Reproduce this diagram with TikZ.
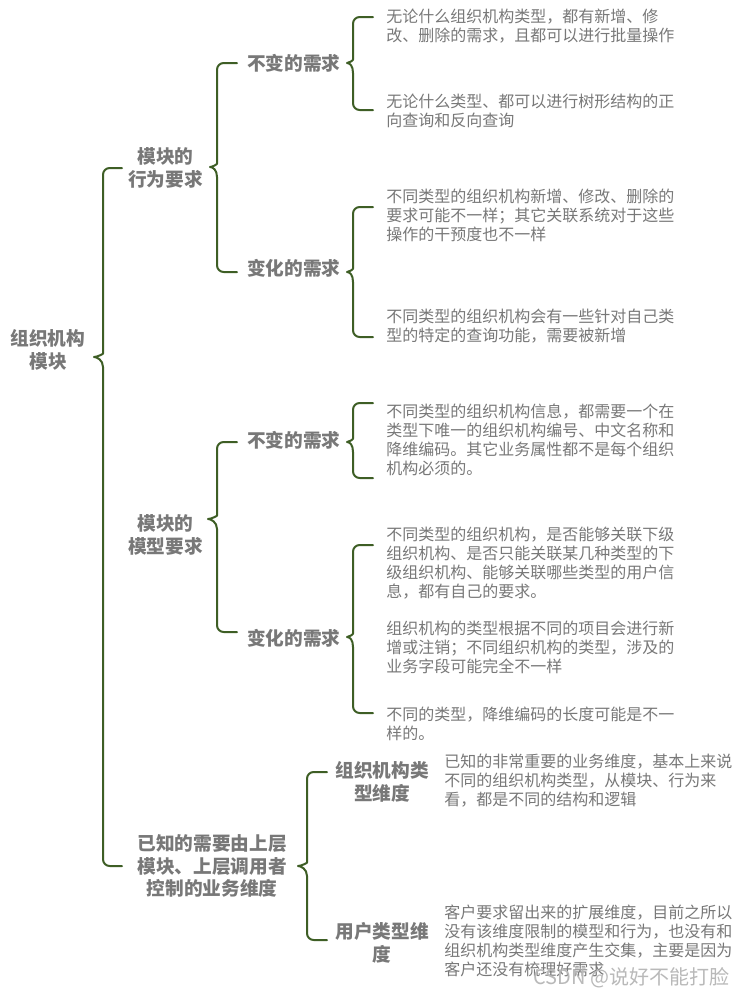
\documentclass[tikz,border=0pt]{standalone}
\usepackage{fontspec}
\setmainfont{Noto Sans CJK SC}
\usetikzlibrary{calc}
\definecolor{txt}{RGB}{120,120,120}
\definecolor{brc}{RGB}{62,94,37}
\definecolor{wm}{RGB}{185,185,185}
\tikzset{
  leaf/.style={anchor=west, align=left, inner sep=0pt, text=txt, font=\fontsize{12}{14.25}\selectfont},
  lbl/.style={align=center, inner sep=0pt, text=txt, font=\fontsize{14}{16.9}\selectfont\bfseries},
  lbll/.style={lbl, anchor=west, align=left},
  braceline/.style={draw=brc, line width=1.5pt, line cap=round, line join=round},
}
% #1 tip, #2 top arm end, #3 bottom arm end, #4 depth of tip
\newcommand\mmbrace[4]{%
  \draw[braceline] (#2) [rounded corners=5pt] -- ($(#2 -| #1)+(#4,0)$) -- ($(#1)+(#4,-10)$) [sharp corners]
    .. controls ($(#1)+(#4,-3)$) and ($(#1)+(3,0)$) .. (#1)
    .. controls ($(#1)+(3,0)$) and ($(#1)+(#4,3)$) .. ($(#1)+(#4,10)$)
    [rounded corners=5pt] -- ($(#3 -| #1)+(#4,0)$) -- (#3);}
\begin{document}
\begin{tikzpicture}[x=0.75pt,y=-0.75pt]
\useasboundingbox[fill=white] (0,0) rectangle (740,997);

% root
\node[lbl] (root) at (48,350) {组织机构\\模块};
% level 1
\node[lbl] (beh) at (165.5,168) {模块的\\行为要求};
\node[lbl] (mod) at (165.5,535) {模块的\\模型要求};
\node[lbl] (dim) at (212,866) {已知的需要由上层\\模块、上层调用者\\控制的业务维度};
% level 2
\node[lbll] (b1) at (247,63) {不变的需求};
\node[lbll] (b2) at (247,268) {变化的需求};
\node[lbll] (m1) at (247,440) {不变的需求};
\node[lbll] (m2) at (247,638) {变化的需求};
\node[lbl] (d1) at (382,782) {组织机构类\\型维度};
\node[lbl] (d2) at (382,943) {用户类型维\\度};
% leaves
\node[leaf] (a1) at (386,26) {无论什么组织机构类型，都有新增、修\\改、删除的需求，且都可以进行批量操作};
\node[leaf] (a2) at (386,110.5) {无论什么类型、都可以进行树形结构的正\\向查询和反向查询};
\node[leaf] (c1) at (386,215) {不同类型的组织机构新增、修改、删除的\\要求可能不一样；其它关联系统对于这些\\操作的干预度也不一样};
\node[leaf] (c2) at (386,326) {不同类型的组织机构会有一些针对自己类\\型的特定的查询功能，需要被新增};
\node[leaf] (e1) at (386,440) {不同类型的组织机构信息，都需要一个在\\类型下唯一的组织机构编号、中文名称和\\降维编码。其它业务属性都不是每个组织\\机构必须的。};
\node[leaf] (f1) at (386,563.5) {不同类型的组织机构，是否能够关联下级\\组织机构、是否只能关联某几种类型的下\\级组织机构、能够关联哪些类型的用户信\\息，都有自己的要求。};
\node[leaf] (f2) at (386,647.5) {组织机构的类型根据不同的项目会进行新\\增或注销；不同组织机构的类型，涉及的\\业务字段可能完全不一样};
\node[leaf] (f3) at (386,724) {不同的类型，降维编码的长度可能是不一\\样的。};
\node[leaf] (g1) at (444,781) {已知的非常重要的业务维度，基本上来说\\不同的组织机构类型，从模块、行为来\\看，都是不同的结构和逻辑};
\node[leaf] (g2) at (444,941) {客户要求留出来的扩展维度，目前之所以\\没有该维度限制的模型和行为，也没有和\\组织机构类型维度产生交集，主要是因为\\客户还没有梳理好需求};

% brace coordinates
\coordinate (tR) at (94,357);  \coordinate (tRa) at (122,168); \coordinate (tRb) at (122,866);
\coordinate (tB) at (210,167); \coordinate (tBa) at (237,63);  \coordinate (tBb) at (237,272);
\coordinate (tB1) at (347,63); \coordinate (tB1a) at (373,17); \coordinate (tB1b) at (373,110);
\coordinate (tB2) at (347,272);\coordinate (tB2a) at (373,207);\coordinate (tB2b) at (373,337);
\coordinate (tM) at (208,519); \coordinate (tMa) at (237,442); \coordinate (tMb) at (237,632);
\coordinate (tM1) at (347,442);\coordinate (tM1a) at (373,403);\coordinate (tM1b) at (373,478);
\coordinate (tM2) at (347,637);\coordinate (tM2a) at (373,545);\coordinate (tM2b) at (373,713);
\coordinate (tD) at (298,866); \coordinate (tDa) at (327,772); \coordinate (tDb) at (327,940);

\mmbrace{tR}{tRa}{tRb}{9}
\mmbrace{tB}{tBa}{tBb}{7}
\mmbrace{tB1}{tB1a}{tB1b}{6}
\mmbrace{tB2}{tB2a}{tB2b}{6}
\mmbrace{tM}{tMa}{tMb}{9}
\mmbrace{tM1}{tM1a}{tM1b}{6}
\mmbrace{tM2}{tM2a}{tM2b}{6}
\mmbrace{tD}{tDa}{tDb}{9}

% watermark
\node[anchor=west, inner sep=0pt, text=wm, font=\fontsize{15}{18}\selectfont] (wmk) at (533,978) {CSDN @说好不能打脸};
\end{tikzpicture}
\end{document}
